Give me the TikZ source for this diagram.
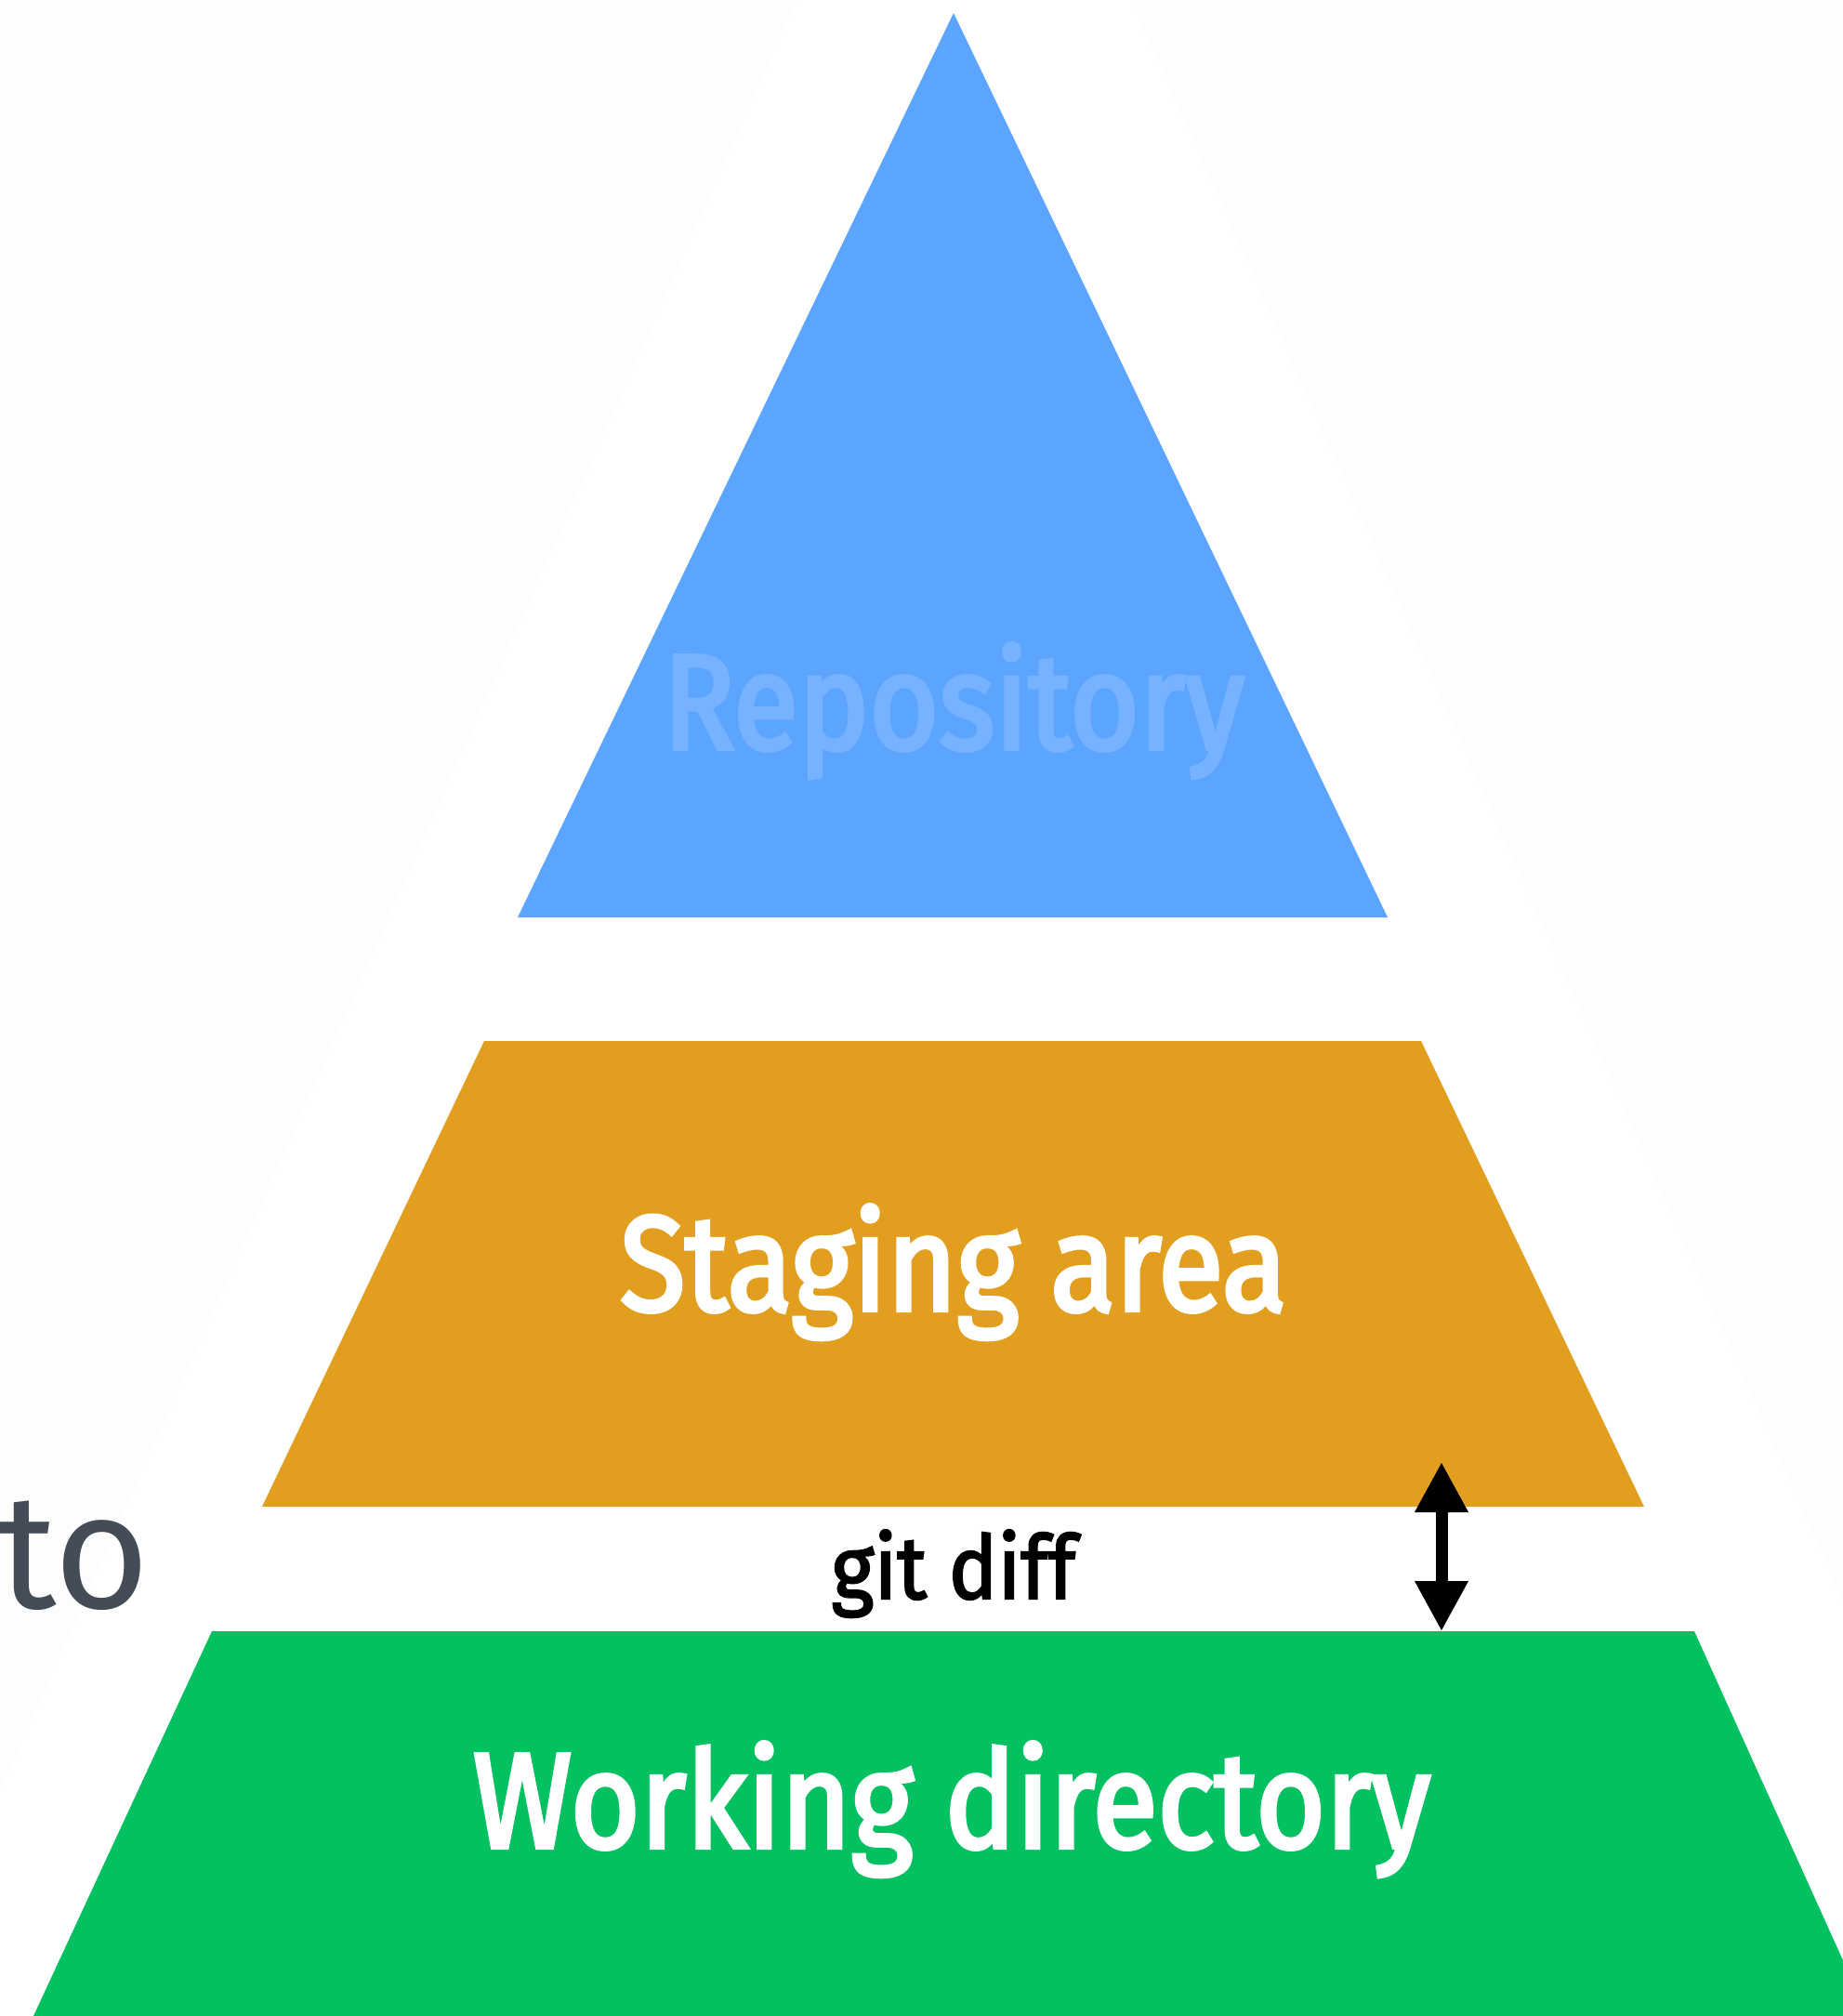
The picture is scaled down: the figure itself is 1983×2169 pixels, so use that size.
\documentclass[tikz,border=0pt]{standalone}
\usepackage{fontspec}
\setmainfont{Fira Sans}
\newfontfamily\layerfont[FakeBold=3, FakeStretch=0.88]{Fira Sans}
\newfontfamily\cmdfont[FakeBold=2.2, FakeStretch=0.93]{Fira Sans}
\usetikzlibrary{arrows.meta}

\definecolor{slidegrey}{HTML}{FDFDFD}
\definecolor{repoblue}{HTML}{5CA5FF}
\definecolor{repotext}{HTML}{76B2FF}
\definecolor{stageorange}{HTML}{E29F1F}
\definecolor{workgreen}{HTML}{03C160}
\definecolor{slidetext}{HTML}{434C57}

\tikzset{
  layerlabel/.style={anchor=base, inner sep=0pt, font=\layerfont\fontsize{146}{150}\selectfont},
  cmdlabel/.style={anchor=base, inner sep=0pt, font=\cmdfont\fontsize{95}{100}\selectfont},
  diffarrow/.style={line width=13pt,
    {Triangle[length=54pt,width=54pt]}-{Triangle[length=54pt,width=54pt]}}
}

\begin{document}
\begin{tikzpicture}[x=1pt,y=-1pt]
  \clip (0,0) rectangle (1983,2169);
  % slide background with its large faint triangle
  \fill[slidegrey] (0,0) rectangle (1983,2169);
  \fill[white] (1037,-404) -- (-108,2169) -- (2182,2169) -- cycle;

  % the three layers of the pyramid
  \fill[repoblue]    (1026,14) -- (1493,987) -- (557,987) -- cycle;
  \fill[stageorange] (521,1120) -- (1529,1120) -- (1769,1621) -- (282,1621) -- cycle;
  \fill[workgreen]   (228,1755) -- (1823,1755) -- (2010,2169) -- (36,2169) -- cycle;

  % labels
  \node[layerlabel, text=repotext] (repo)  at (1026,806)  {Repository};
  \node[layerlabel, text=white]    (stage) at (1026,1410) {Staging area};
  \node[layerlabel, text=white]    (work)  at (1024,1988) {Working directory};
  \node[cmdlabel]                  (diff)  at (1026,1720) {git diff};
  \node[anchor=base west, inner sep=0pt, text=slidetext,
        font=\fontsize{176}{180}\selectfont] (to) at (-3,1730) {to};

  % git diff compares staging area and working directory
  \coordinate (stagebottom) at (1551,1573);
  \coordinate (worktop)     at (1551,1755);
  \draw[diffarrow] (stagebottom) -- (worktop);
\end{tikzpicture}
\end{document}
